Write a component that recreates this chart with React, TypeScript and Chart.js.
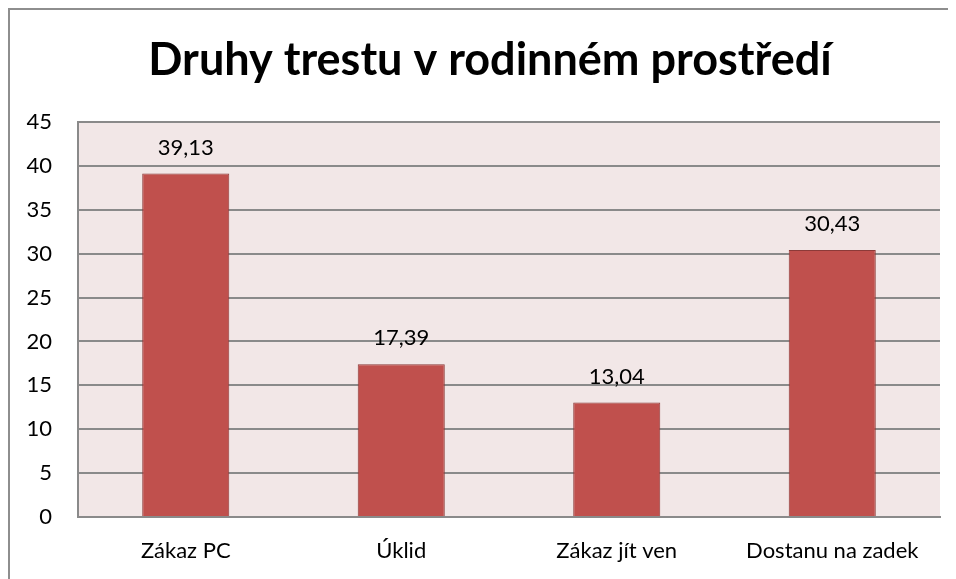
import React, { useEffect, useRef } from "react";
import { Chart, registerables } from "chart.js";

Chart.register(...registerables);

const TITLE = "Druhy trestu v rodinném prostředí";
const categories = ["Zákaz PC", "Úklid", "Zákaz jít ven", "Dostanu na zadek"];
const values = [39.13, 17.39, 13.04, 30.43];
const yTicks = [0, 5, 10, 15, 20, 25, 30, 35, 40, 45];

const FONT = "Lato, 'Open Sans', sans-serif";
const TITLE_FONT = `bold 45px ${FONT}`;

const bgPlugin = {
  id: "plotBg",
  beforeDraw(chart: any) {
    const { ctx, chartArea } = chart;
    ctx.save();
    ctx.fillStyle = "#F2E7E7";
    ctx.fillRect(chartArea.left, chartArea.top, chartArea.right - chartArea.left, chartArea.bottom - chartArea.top);
    ctx.restore();
  },
};

// Draw the title centred where the original has it (slightly right of canvas centre)
const titlePlugin = {
  id: "shiftedTitle",
  afterDraw(chart: any) {
    const { ctx } = chart;
    const tb = chart.titleBlock;
    if (!tb) return;
    const pad = tb.options.padding;
    const top = typeof pad === "object" ? pad.top : pad;
    const lineH = 45 * 1.2;
    ctx.save();
    ctx.font = TITLE_FONT;
    ctx.fillStyle = "#000";
    ctx.textAlign = "center";
    ctx.textBaseline = "middle";
    ctx.fillText(TITLE, 480, tb.top + top + lineH / 2);
    ctx.restore();
  },
};

const labelPlugin = {
  id: "valLabels",
  afterDatasetsDraw(chart: any) {
    const { ctx } = chart;
    const meta = chart.getDatasetMeta(0);
    ctx.save();
    ctx.font = `22px ${FONT}`;
    ctx.fillStyle = "#000";
    ctx.textAlign = "center";
    ctx.textBaseline = "bottom";
    meta.data.forEach((el: any, i: number) => {
      const txt = values[i].toFixed(2).replace(".", ",");
      ctx.fillText(txt, el.x, el.y - 15);
    });
    ctx.restore();
  },
};

export default function App() {
  const ref = useRef<HTMLCanvasElement>(null);
  useEffect(() => {
    if (!ref.current) return;
    const chart = new Chart(ref.current, {
      type: "bar",
      data: {
        labels: categories,
        datasets: [
          {
            data: values,
            backgroundColor: "#C0504D",
            borderColor: "#8C3A38",
            borderWidth: 1,
            categoryPercentage: 1,
            barPercentage: 0.404,
          },
        ],
      },
      options: {
        animation: false,
        responsive: false,
        maintainAspectRatio: false,
        layout: { padding: { left: 0, right: 16, top: 0, bottom: 0 } },
        plugins: {
          legend: { display: false },
          tooltip: { enabled: false },
          title: {
            display: true,
            text: TITLE,
            color: "rgba(0,0,0,0)",
            font: { family: FONT, size: 45, weight: "bold" },
            padding: { top: 23, bottom: 35 },
          },
        },
        scales: {
          x: {
            grid: { display: false, drawTicks: false },
            border: { display: true, color: "#8A8A8A", width: 2 },
            ticks: { color: "#000", font: { family: FONT, size: 22 }, padding: 21 },
            afterFit: (s: any) => {
              s.height = 62;
            },
          },
          y: {
            min: 0,
            max: 45,
            afterBuildTicks: (s: any) => {
              s.ticks = yTicks.map((v) => ({ value: v }));
            },
            grid: { color: "#8A8A8A", lineWidth: 2, drawTicks: false },
            border: { display: true, color: "#8A8A8A", width: 2 },
            ticks: { color: "#000", font: { family: FONT, size: 22 }, padding: 26 },
            afterFit: (s: any) => {
              s.width = 68;
            },
          },
        },
      },
      plugins: [bgPlugin, labelPlugin, titlePlugin],
    });
    return () => chart.destroy();
  }, []);
  return (
    <div
      style={{
        width: 946,
        height: 569,
        borderTop: "2px solid #8E8E8E",
        borderLeft: "2px solid #8E8E8E",
        overflow: "hidden",
        background: "#fff",
      }}
    >
      <canvas ref={ref} width={946} height={569} style={{ display: "block" }} />
    </div>
  );
}
